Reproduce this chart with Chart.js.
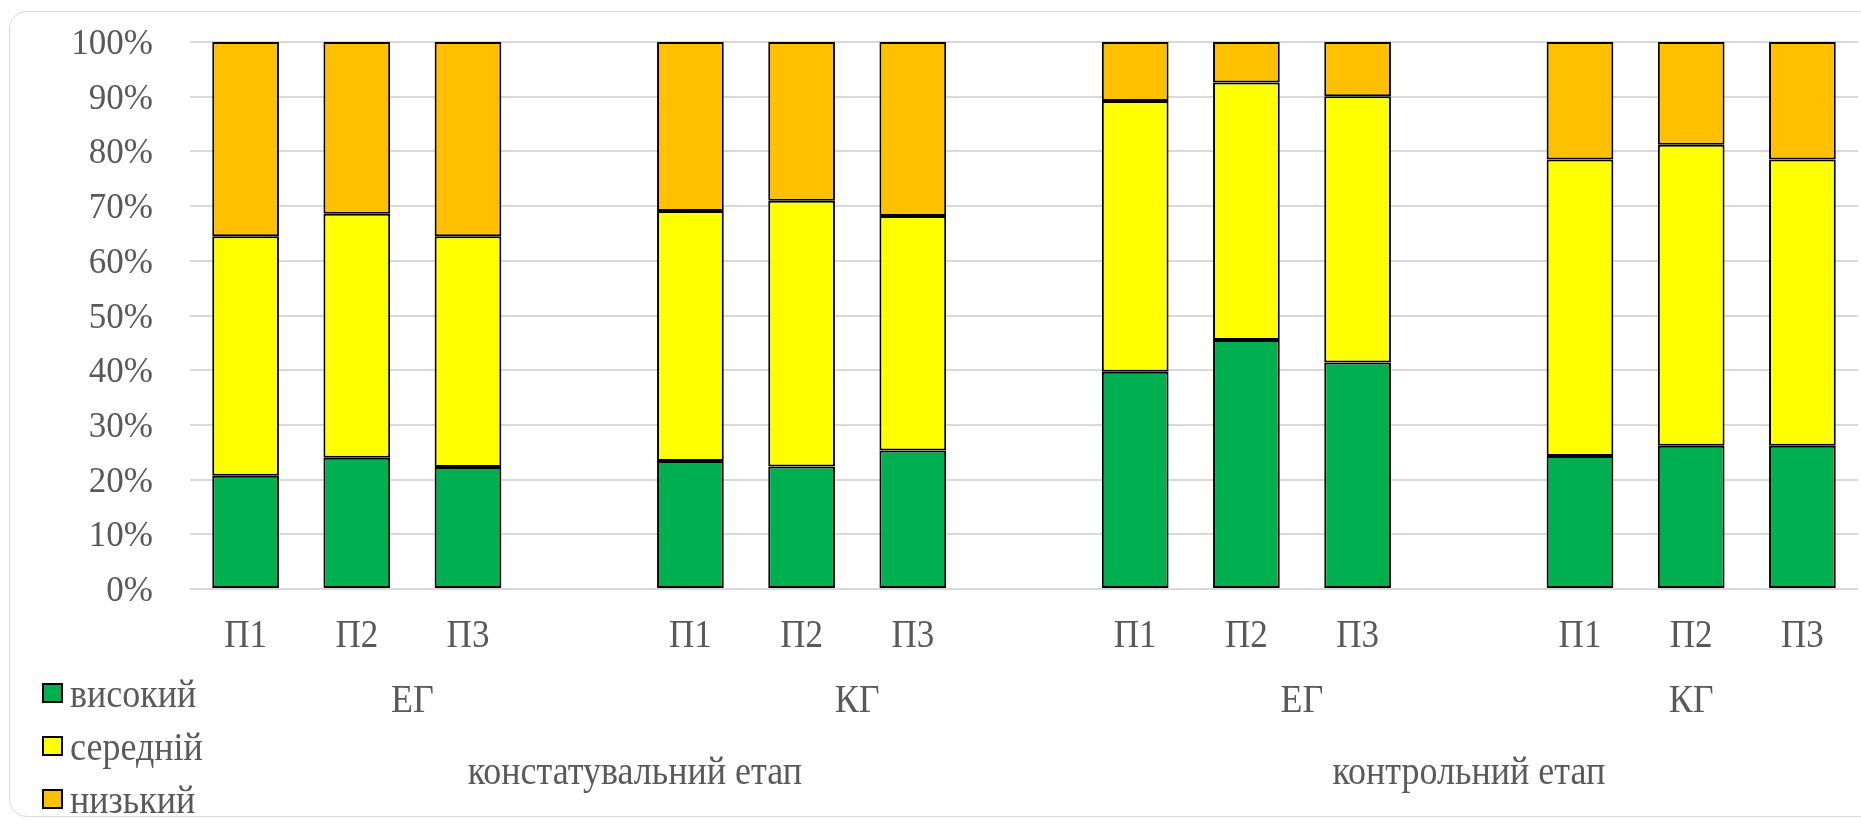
<!DOCTYPE html>
<html lang="uk">
<head>
<meta charset="utf-8">
<title>Рівні сформованості</title>
<script src="https://cdn.jsdelivr.net/npm/chart.js@4.4.1/dist/chart.umd.min.js"></script>
<style>
  html, body { margin: 0; padding: 0; background: #fff; overflow: hidden; }
  #frame {
    position: absolute; left: 9px; top: 11px; width: 1900px; height: 806px;
    border: 1px solid #d9d9d9; border-radius: 18px; box-sizing: border-box;
  }
  #wrap { position: absolute; left: 0; top: 0; width: 1861px; height: 827px; }
</style>
</head>
<body>
<div id="frame"></div>
<div id="wrap"><canvas id="levelsChart"></canvas></div>
<script>
// Категорії (порожні — проміжки між групами)
const categories = ['П1', 'П2', 'П3', '', 'П1', 'П2', 'П3', '', 'П1', 'П2', 'П3', '', 'П1', 'П2', 'П3'];

// Групи і етапи — скільки категорій займає кожна
const groupLabels = ['ЕГ', 'КГ', 'ЕГ', 'КГ'];
const groupSizes = [4, 4, 4, 3];
const stageLabels = ['констатувальний етап', 'контрольний етап'];
const stageSizes = [8, 7];

// Частки рівнів, %
const highValues   = [20.7, 24.0, 22.3, null, 23.4, 22.4, 25.3, null, 39.7, 45.5, 41.4, null, 24.3, 26.2, 26.2];
const middleValues = [43.8, 44.6, 42.2, null, 45.7, 48.6, 42.9, null, 49.5, 47.1, 48.7, null, 54.2, 55.0, 52.3];
const lowValues    = [35.5, 31.4, 35.5, null, 30.9, 29.0, 31.8, null, 10.8, 7.4, 9.9, null, 21.5, 18.8, 21.5];

const seriesNames = ['високий', 'середній', 'низький'];
const seriesColors = ['#00B050', '#FFFF00', '#FFC000'];

const FONT = "'Liberation Serif', 'Times New Roman', serif";
const TEXT_COLOR = '#595959';
const STRETCH = 1.13; // підписи трохи витягнуті по вертикалі

function makeDataset(idx, values) {
    return {
        label: seriesNames[idx],
        data: values,
        backgroundColor: seriesColors[idx],
        borderColor: '#000',
        borderWidth: 2,
        borderSkipped: false,
        barPercentage: 0.6,
        categoryPercentage: 1.0
    };
}

// текст по базовій лінії з вертикальним розтягом
function drawText(ctx, text, x, baseline, k) {
    ctx.save();
    ctx.translate(x, baseline);
    ctx.scale(1, k);
    ctx.fillText(text, 0, 0);
    ctx.restore();
}

// Підписи осей, груп, етапів і легенда
const axisText = {
    id: 'axisText',
    afterDraw(chart) {
        const ctx = chart.ctx;
        const x = chart.scales.x;
        const y = chart.scales.y;
        const bottom = chart.chartArea.bottom;
        ctx.save();
        ctx.fillStyle = TEXT_COLOR;
        ctx.textBaseline = 'alphabetic';

        // вісь Y
        ctx.font = '35px ' + FONT;
        ctx.textAlign = 'right';
        y.ticks.forEach(t => {
            drawText(ctx, t.value + '%', 153, y.getPixelForValue(t.value) + 12, 1.03);
        });

        // вісь X — три рівні
        ctx.font = '35px ' + FONT;
        ctx.textAlign = 'center';
        categories.forEach((c, i) => {
            if (c) drawText(ctx, c, x.getPixelForValue(i), bottom + 58, STRETCH);
        });

        function drawLevel(labels, sizes, baseline) {
            let start = 0;
            labels.forEach((text, i) => {
                const end = start + sizes[i] - 1;
                const cx = (x.getPixelForValue(start) + x.getPixelForValue(end)) / 2;
                drawText(ctx, text, cx, baseline, STRETCH);
                start = end + 1;
            });
        }
        ctx.font = '36px ' + FONT;
        drawLevel(groupLabels, groupSizes, bottom + 123);
        drawLevel(stageLabels, stageSizes, bottom + 195);

        // легенда
        ctx.textAlign = 'left';
        chart.data.datasets.forEach((ds, i) => {
            const top = 684 + i * 53;
            ctx.fillStyle = ds.backgroundColor;
            ctx.fillRect(43, top, 19, 18);
            ctx.lineWidth = 2;
            ctx.strokeStyle = '#000';
            ctx.strokeRect(43, top, 19, 18);
            ctx.fillStyle = TEXT_COLOR;
            drawText(ctx, ds.label, 70, top + 23, STRETCH);
        });
        ctx.restore();
    }
};

const ctx = document.getElementById('levelsChart');
const levelsChart = new Chart(ctx, {
    type: 'bar',
    data: {
        labels: categories,
        datasets: [
            makeDataset(0, highValues),
            makeDataset(1, middleValues),
            makeDataset(2, lowValues)
        ]
    },
    options: {
        responsive: true,
        maintainAspectRatio: false,
        animation: false,
        layout: { padding: { top: 42, right: 3, left: 0, bottom: 0 } },
        plugins: {
            legend: { display: false },
            tooltip: { enabled: false }
        },
        scales: {
            x: {
                stacked: true,
                grid: { display: false },
                border: { display: false },
                ticks: { display: false },
                afterFit(scale) { scale.height = 238; }
            },
            y: {
                stacked: true,
                min: 0,
                max: 100,
                grid: { color: '#d9d9d9', lineWidth: 2, drawTicks: false },
                border: { display: false },
                ticks: { display: false, stepSize: 10 },
                afterFit(scale) { scale.width = 190; }
            }
        }
    },
    plugins: [axisText]
});
</script>
</body>
</html>
